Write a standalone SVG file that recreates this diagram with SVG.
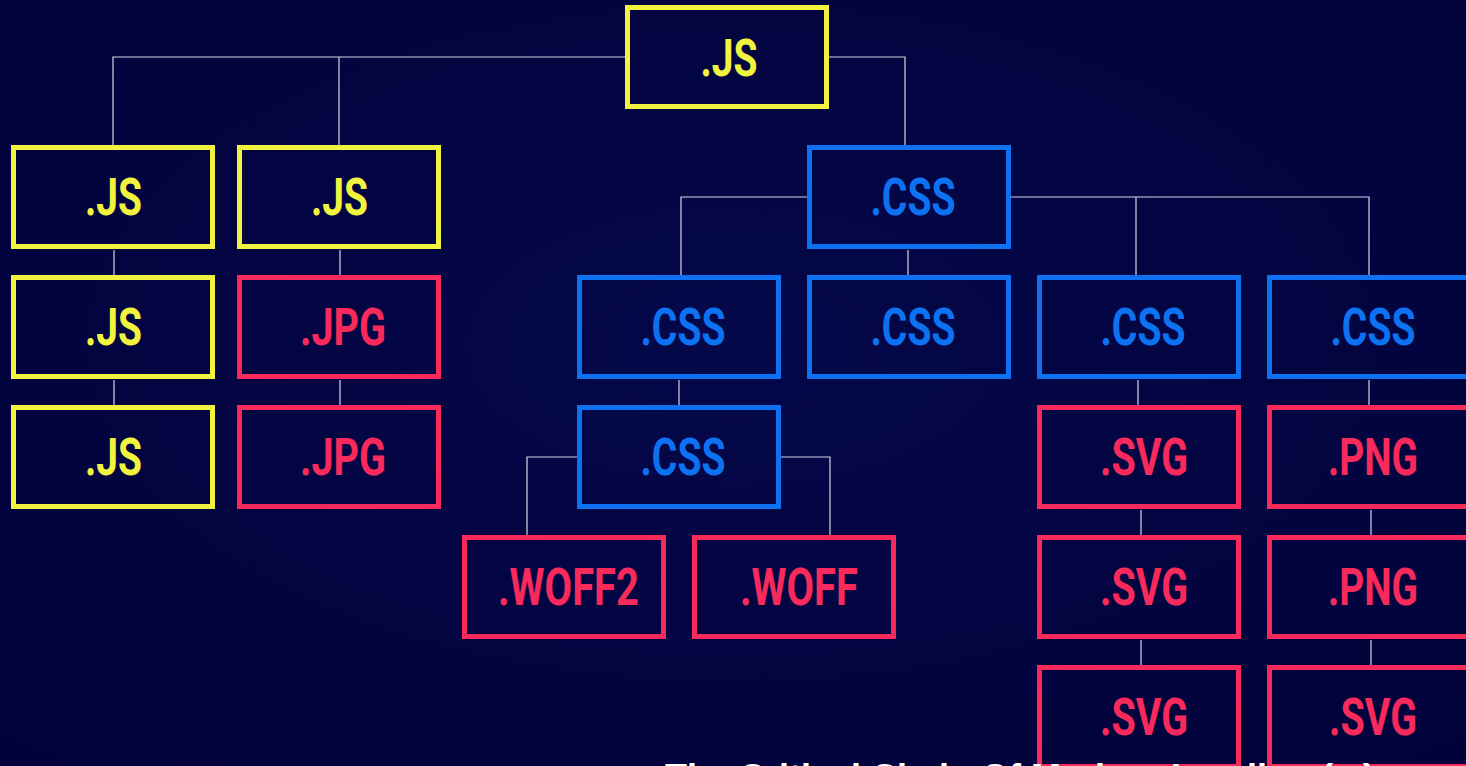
<svg xmlns="http://www.w3.org/2000/svg" width="1466" height="766" viewBox="0 0 1466 766">
  <defs>
    <radialGradient id="bg" cx="0.5" cy="0.45" r="0.75">
      <stop offset="0" stop-color="#050849"/>
      <stop offset="1" stop-color="#01023a"/>
    </radialGradient>
  </defs>
  <style>
    .box { fill: none; stroke-width: 5; }
    .js .box { stroke: #f2f33f; }
    .css .box { stroke: #0c72f2; }
    .asset .box { stroke: #f72a5b; }
    .lbl { font-family: Roboto, "Liberation Sans", sans-serif; font-weight: bold; font-size: 52px; text-anchor: middle; }
    .js .lbl { fill: #f2f33f; }
    .css .lbl { fill: #0c72f2; }
    .asset .lbl { fill: #f72a5b; }
    .links path { fill: none; stroke: #d6d6e6; stroke-width: 1.2; }
    .caption { font-family: "Liberation Sans", Arial, sans-serif; font-weight: bold; font-size: 36px; fill: #ffffff; }
  </style>

  <rect width="1466" height="766" fill="url(#bg)"/>

  <!-- tree connectors -->
  <g id="connectors" class="links">
    <path d="M625 57 H113 V145 M339 57 V145"/>
    <path d="M829 57 H905 V145"/>
    <path d="M807 197 H681 V275"/>
    <path d="M1011 197 H1369 V275 M1136 197 V275"/>
    <path d="M908 250 V275"/>
    <path d="M114 250 V275 M114 380 V405"/>
    <path d="M340 250 V275 M340 380 V405"/>
    <path d="M679 380 V405"/>
    <path d="M577 457 H527 V535 M781 457 H830 V535"/>
    <path d="M1138 380 V405 M1141 510 V535 M1141 640 V665"/>
    <path d="M1369 380 V405 M1371 510 V535 M1371 640 V665"/>
  </g>

  <!-- root script -->
  <g id="root-js" class="js">
    <rect class="box" x="627.5" y="7.5" width="199" height="99"/>
    <text class="lbl" x="729" y="76" textLength="57" lengthAdjust="spacingAndGlyphs">.JS</text>
  </g>

  <!-- script chain, column 1 -->
  <g id="js-a1" class="js">
    <rect class="box" x="13.5" y="147.5" width="199" height="99"/>
    <text class="lbl" x="113.5" y="215" textLength="57" lengthAdjust="spacingAndGlyphs">.JS</text>
  </g>
  <g id="js-a2" class="js">
    <rect class="box" x="13.5" y="277.5" width="199" height="99"/>
    <text class="lbl" x="113.5" y="345" textLength="57" lengthAdjust="spacingAndGlyphs">.JS</text>
  </g>
  <g id="js-a3" class="js">
    <rect class="box" x="13.5" y="407.5" width="199" height="99"/>
    <text class="lbl" x="113.5" y="475" textLength="57" lengthAdjust="spacingAndGlyphs">.JS</text>
  </g>

  <!-- script with images, column 2 -->
  <g id="js-b1" class="js">
    <rect class="box" x="239.5" y="147.5" width="199" height="99"/>
    <text class="lbl" x="339.5" y="215" textLength="57" lengthAdjust="spacingAndGlyphs">.JS</text>
  </g>
  <g id="jpg-b2" class="asset">
    <rect class="box" x="239.5" y="277.5" width="199" height="99"/>
    <text class="lbl" x="343" y="345" textLength="86" lengthAdjust="spacingAndGlyphs">.JPG</text>
  </g>
  <g id="jpg-b3" class="asset">
    <rect class="box" x="239.5" y="407.5" width="199" height="99"/>
    <text class="lbl" x="343" y="475" textLength="86" lengthAdjust="spacingAndGlyphs">.JPG</text>
  </g>

  <!-- main stylesheet -->
  <g id="css-main" class="css">
    <rect class="box" x="809.5" y="147.5" width="199" height="99"/>
    <text class="lbl" x="913" y="215" textLength="85" lengthAdjust="spacingAndGlyphs">.CSS</text>
  </g>

  <!-- imported stylesheets -->
  <g id="css-c1" class="css">
    <rect class="box" x="579.5" y="277.5" width="199" height="99"/>
    <text class="lbl" x="683" y="345" textLength="85" lengthAdjust="spacingAndGlyphs">.CSS</text>
  </g>
  <g id="css-c2" class="css">
    <rect class="box" x="579.5" y="407.5" width="199" height="99"/>
    <text class="lbl" x="683" y="475" textLength="85" lengthAdjust="spacingAndGlyphs">.CSS</text>
  </g>
  <g id="css-d1" class="css">
    <rect class="box" x="809.5" y="277.5" width="199" height="99"/>
    <text class="lbl" x="913" y="345" textLength="85" lengthAdjust="spacingAndGlyphs">.CSS</text>
  </g>
  <g id="css-e1" class="css">
    <rect class="box" x="1039.5" y="277.5" width="199" height="99"/>
    <text class="lbl" x="1143" y="345" textLength="85" lengthAdjust="spacingAndGlyphs">.CSS</text>
  </g>
  <g id="css-f1" class="css">
    <rect class="box" x="1269.5" y="277.5" width="199" height="99"/>
    <text class="lbl" x="1373" y="345" textLength="85" lengthAdjust="spacingAndGlyphs">.CSS</text>
  </g>

  <!-- fonts -->
  <g id="woff2" class="asset">
    <rect class="box" x="464.5" y="537.5" width="199" height="99"/>
    <text class="lbl" x="568.5" y="605" textLength="141" lengthAdjust="spacingAndGlyphs">.WOFF2</text>
  </g>
  <g id="woff" class="asset">
    <rect class="box" x="694.5" y="537.5" width="199" height="99"/>
    <text class="lbl" x="799" y="605" textLength="118" lengthAdjust="spacingAndGlyphs">.WOFF</text>
  </g>

  <!-- svg chain -->
  <g id="svg-e2" class="asset">
    <rect class="box" x="1039.5" y="407.5" width="199" height="99"/>
    <text class="lbl" x="1144" y="475" textLength="88" lengthAdjust="spacingAndGlyphs">.SVG</text>
  </g>
  <g id="svg-e3" class="asset">
    <rect class="box" x="1039.5" y="537.5" width="199" height="99"/>
    <text class="lbl" x="1144" y="605" textLength="88" lengthAdjust="spacingAndGlyphs">.SVG</text>
  </g>
  <g id="svg-e4" class="asset">
    <rect class="box" x="1039.5" y="667.5" width="199" height="99"/>
    <text class="lbl" x="1144" y="735" textLength="88" lengthAdjust="spacingAndGlyphs">.SVG</text>
  </g>

  <!-- png chain -->
  <g id="png-f2" class="asset">
    <rect class="box" x="1269.5" y="407.5" width="199" height="99"/>
    <text class="lbl" x="1373" y="475" textLength="90" lengthAdjust="spacingAndGlyphs">.PNG</text>
  </g>
  <g id="png-f3" class="asset">
    <rect class="box" x="1269.5" y="537.5" width="199" height="99"/>
    <text class="lbl" x="1373" y="605" textLength="90" lengthAdjust="spacingAndGlyphs">.PNG</text>
  </g>
  <g id="svg-f4" class="asset">
    <rect class="box" x="1269.5" y="667.5" width="199" height="99"/>
    <text class="lbl" x="1373" y="735" textLength="88" lengthAdjust="spacingAndGlyphs">.SVG</text>
  </g>

  <!-- caption running off the bottom edge -->
  <text class="caption" x="665" y="790">The Critical Chain Of Modern Loading (...)</text>
</svg>
